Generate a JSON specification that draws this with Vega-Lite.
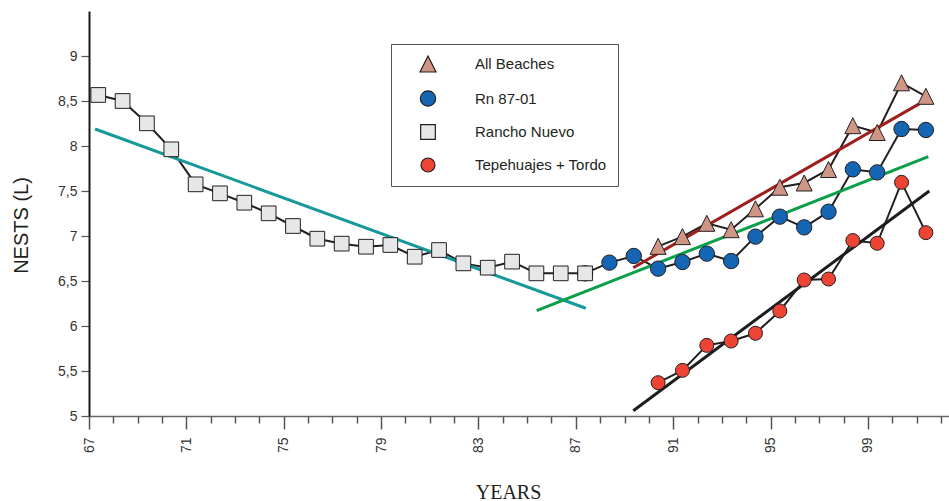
{
  "$schema": "https://vega.github.io/schema/vega-lite/v6.json",
  "autosize": "none",
  "padding": {"left": 89, "top": 11, "right": 0, "bottom": 85},
  "width": 860,
  "height": 405,
  "background": "white",
  "config": {
    "view": {"stroke": null},
    "font": "Liberation Sans"
  },
  "datasets": {
    "series": [
      {"x": 87.38, "value": 6.585, "series": "Rn 87-01"},
      {"x": 67.38, "value": 8.567, "series": "Rancho Nuevo"},
      {"x": 68.38, "value": 8.5, "series": "Rancho Nuevo"},
      {"x": 69.38, "value": 8.252, "series": "Rancho Nuevo"},
      {"x": 70.38, "value": 7.963, "series": "Rancho Nuevo"},
      {"x": 71.38, "value": 7.574, "series": "Rancho Nuevo"},
      {"x": 72.38, "value": 7.474, "series": "Rancho Nuevo"},
      {"x": 73.38, "value": 7.37, "series": "Rancho Nuevo"},
      {"x": 74.38, "value": 7.252, "series": "Rancho Nuevo"},
      {"x": 75.38, "value": 7.111, "series": "Rancho Nuevo"},
      {"x": 76.38, "value": 6.97, "series": "Rancho Nuevo"},
      {"x": 77.38, "value": 6.915, "series": "Rancho Nuevo"},
      {"x": 78.38, "value": 6.881, "series": "Rancho Nuevo"},
      {"x": 79.38, "value": 6.9, "series": "Rancho Nuevo"},
      {"x": 80.38, "value": 6.77, "series": "Rancho Nuevo"},
      {"x": 81.38, "value": 6.844, "series": "Rancho Nuevo"},
      {"x": 82.38, "value": 6.696, "series": "Rancho Nuevo"},
      {"x": 83.38, "value": 6.648, "series": "Rancho Nuevo"},
      {"x": 84.38, "value": 6.715, "series": "Rancho Nuevo"},
      {"x": 85.38, "value": 6.585, "series": "Rancho Nuevo"},
      {"x": 86.38, "value": 6.585, "series": "Rancho Nuevo"},
      {"x": 87.38, "value": 6.585, "series": "Rancho Nuevo"},
      {"x": 88.38, "value": 6.704, "series": "Rn 87-01"},
      {"x": 89.38, "value": 6.778, "series": "Rn 87-01"},
      {"x": 90.38, "value": 6.637, "series": "Rn 87-01"},
      {"x": 91.38, "value": 6.711, "series": "Rn 87-01"},
      {"x": 92.38, "value": 6.804, "series": "Rn 87-01"},
      {"x": 93.38, "value": 6.722, "series": "Rn 87-01"},
      {"x": 94.38, "value": 6.993, "series": "Rn 87-01"},
      {"x": 95.38, "value": 7.215, "series": "Rn 87-01"},
      {"x": 96.38, "value": 7.096, "series": "Rn 87-01"},
      {"x": 97.38, "value": 7.27, "series": "Rn 87-01"},
      {"x": 98.38, "value": 7.741, "series": "Rn 87-01"},
      {"x": 99.38, "value": 7.707, "series": "Rn 87-01"},
      {"x": 100.38, "value": 8.189, "series": "Rn 87-01"},
      {"x": 101.38, "value": 8.178, "series": "Rn 87-01"},
      {"x": 90.38, "value": 6.885, "series": "All Beaches"},
      {"x": 91.38, "value": 6.993, "series": "All Beaches"},
      {"x": 92.38, "value": 7.141, "series": "All Beaches"},
      {"x": 93.38, "value": 7.07, "series": "All Beaches"},
      {"x": 94.38, "value": 7.302, "series": "All Beaches"},
      {"x": 95.38, "value": 7.542, "series": "All Beaches"},
      {"x": 96.38, "value": 7.589, "series": "All Beaches"},
      {"x": 97.38, "value": 7.739, "series": "All Beaches"},
      {"x": 98.38, "value": 8.226, "series": "All Beaches"},
      {"x": 99.38, "value": 8.15, "series": "All Beaches"},
      {"x": 100.38, "value": 8.702, "series": "All Beaches"},
      {"x": 101.38, "value": 8.552, "series": "All Beaches"},
      {"x": 90.38, "value": 5.37, "series": "Tepehuajes + Tordo"},
      {"x": 91.38, "value": 5.507, "series": "Tepehuajes + Tordo"},
      {"x": 92.38, "value": 5.785, "series": "Tepehuajes + Tordo"},
      {"x": 93.38, "value": 5.833, "series": "Tepehuajes + Tordo"},
      {"x": 94.38, "value": 5.919, "series": "Tepehuajes + Tordo"},
      {"x": 95.38, "value": 6.167, "series": "Tepehuajes + Tordo"},
      {"x": 96.38, "value": 6.511, "series": "Tepehuajes + Tordo"},
      {"x": 97.38, "value": 6.522, "series": "Tepehuajes + Tordo"},
      {"x": 98.38, "value": 6.95, "series": "Tepehuajes + Tordo"},
      {"x": 99.38, "value": 6.919, "series": "Tepehuajes + Tordo"},
      {"x": 100.38, "value": 7.596, "series": "Tepehuajes + Tordo"},
      {"x": 101.38, "value": 7.037, "series": "Tepehuajes + Tordo"}
    ],
    "trends": [
      {"x": 67.25, "value": 8.189, "trend": "Rancho Nuevo 67-87"},
      {"x": 87.41, "value": 6.197, "trend": "Rancho Nuevo 67-87"},
      {"x": 85.39, "value": 6.17, "trend": "Rn 87-01"},
      {"x": 101.48, "value": 7.881, "trend": "Rn 87-01"},
      {"x": 89.36, "value": 6.648, "trend": "All Beaches"},
      {"x": 101.14, "value": 8.474, "trend": "All Beaches"},
      {"x": 89.36, "value": 5.059, "trend": "Tepehuajes + Tordo"},
      {"x": 101.52, "value": 7.5, "trend": "Tepehuajes + Tordo"}
    ]
  },
  "encoding": {
    "x": {
      "field": "x",
      "type": "quantitative",
      "scale": {"domain": [67, 102.33], "nice": false, "zero": false},
      "axis": {
        "title": "YEARS",
        "titleFont": "Liberation Serif",
        "titleFontSize": 20,
        "titleFontWeight": "normal",
        "titleColor": "#231f20",
        "titleX": 419,
        "titleY": 82,
        "titleBaseline": "alphabetic",
        "titleAlign": "center",
        "values": [67,68,69,70,71,72,73,74,75,76,77,78,79,80,81,82,83,84,85,86,87,88,89,90,91,92,93,94,95,96,97,98,99,100,101,102],
        "labelExpr": "datum.value % 4 == 3 ? datum.value : ''",
        "labelAngle": -90,
        "labelFont": "Liberation Sans",
        "labelFontSize": 14,
        "labelColor": "#333333",
        "labelPadding": 8,
        "tickSize": {"condition": {"test": "datum.value % 4 == 3", "value": 13}, "value": 7},
        "tickColor": "#555555",
        "tickWidth": 1.5,
        "domainColor": "#666666",
        "domainWidth": 1.5,
        "grid": false
      }
    },
    "y": {
      "field": "value",
      "type": "quantitative",
      "scale": {"domain": [5, 9.5], "nice": false, "zero": false},
      "axis": {
        "title": "NESTS (L)",
        "titleFont": "Liberation Sans",
        "titleFontSize": 20,
        "titleFontWeight": "normal",
        "titleColor": "#231f20",
        "titleAngle": 270,
        "titleBaseline": "middle",
        "titleAlign": "center",
        "titleX": -68,
        "titleY": 214,
        "values": [5, 5.5, 6, 6.5, 7, 7.5, 8, 8.5, 9],
        "labelExpr": "replace(format(datum.value, '.1~f'), '.', ',')",
        "labelFont": "Liberation Sans",
        "labelFontSize": 14,
        "labelColor": "#333333",
        "labelPadding": 4,
        "tickSize": 8,
        "tickColor": "#555555",
        "tickWidth": 1.2,
        "domainColor": "#1a1a1a",
        "domainWidth": 2,
        "grid": false
      }
    }
  },
  "layer": [
    {
      "data": {"name": "series"},
      "mark": {"type": "line", "color": "#231f20", "strokeWidth": 2},
      "encoding": {"detail": {"field": "series"}}
    },
    {
      "data": {"name": "trends"},
      "mark": {"type": "line"},
      "encoding": {
        "detail": {"field": "trend"},
        "stroke": {
          "field": "trend",
          "scale": {
            "domain": ["Rancho Nuevo 67-87", "Rn 87-01", "All Beaches", "Tepehuajes + Tordo"],
            "range": ["#17999b", "#0c9f49", "#9c1f1d", "#1d1d1d"]
          },
          "legend": null
        },
        "strokeWidth": {
          "field": "trend",
          "scale": {
            "domain": ["Rancho Nuevo 67-87", "Rn 87-01", "All Beaches", "Tepehuajes + Tordo"],
            "range": [3, 3, 3.5, 4]
          },
          "legend": null
        }
      }
    },
    {
      "data": {"values": [{}]},
      "mark": {"type": "rule", "color": "#666666", "strokeWidth": 1},
      "encoding": {"y": {"datum": 9.5}, "x": null}
    },
    {
      "data": {"name": "series"},
      "mark": {"type": "point", "filled": true, "opacity": 1, "stroke": "#231f20", "strokeWidth": 1},
      "encoding": {
        "fill": {
          "field": "series",
          "scale": {
            "domain": ["All Beaches", "Rn 87-01", "Rancho Nuevo", "Tepehuajes + Tordo"],
            "range": ["#cf9686", "#1565b5", "#e6e7e8", "#ee4435"]
          },
          "legend": {
            "title": null,
            "orient": "none",
            "legendX": 302,
            "legendY": 33,
            "strokeColor": "#555555",
            "fillColor": "#ffffff",
            "padding": 11,
            "rowPadding": 13,
            "labelFont": "Liberation Sans",
            "labelFontSize": 15,
            "labelColor": "#231f20",
            "labelOffset": 38,
            "symbolOffset": 17,
            "symbolStrokeColor": "#231f20",
            "symbolStrokeWidth": 1.2
          }
        },
        "shape": {
          "field": "series",
          "scale": {
            "domain": ["All Beaches", "Rn 87-01", "Rancho Nuevo", "Tepehuajes + Tordo"],
            "range": ["M0,-1L1,1L-1,1Z", "circle", "square", "circle"]
          }
        },
        "size": {
          "field": "series",
          "scale": {
            "domain": ["All Beaches", "Rn 87-01", "Rancho Nuevo", "Tepehuajes + Tordo"],
            "range": [256, 196, 196, 196]
          }
        }
      }
    }
  ]
}
